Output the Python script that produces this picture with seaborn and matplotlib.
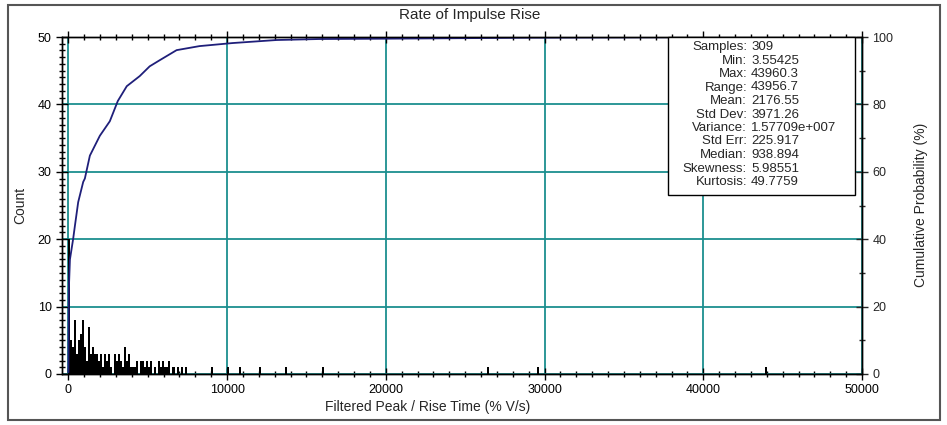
import numpy as np
import pandas as pd
import matplotlib
matplotlib.use("Agg")
import matplotlib.pyplot as plt
from matplotlib.patches import Rectangle
from matplotlib.ticker import MultipleLocator
import seaborn as sns

sns.set_style("ticks")
plt.rcParams["font.family"] = ["Liberation Sans Narrow", "Liberation Sans", "DejaVu Sans"]

# histogram counts, consecutive 125-wide bins starting at 0
BIN_WIDTH = 125
dense_counts = [20, 5, 4, 8, 3, 5, 6, 8, 4, 2, 7, 3, 4, 3, 3, 2, 3, 1, 3, 2,
                3, 1, 0, 3, 2, 3, 2, 1, 4, 2, 3, 1, 1, 1, 2, 0, 2, 2, 1, 2,
                1, 2, 0, 1, 0, 2, 1, 2, 1, 1, 2, 0, 1, 1, 0, 1, 0, 1, 0, 1]
# isolated observations further out
sparse_x = [9000, 10050, 10800, 12030, 13700, 16100, 26400, 29500, 43960]
sparse_counts = [1, 1, 1, 1, 1, 1, 1, 1, 1]

# cumulative probability curve (%)
cdf_x = [3.55, 30, 100, 300, 414, 620, 936, 1040, 1356, 1985, 2613, 3115, 3680,
         4496, 5124, 5752, 6820, 8265, 10337, 13100, 15800, 20000, 26300, 29100, 43960]
cdf_pct = [0.5, 25, 34, 40, 44, 51, 57, 58, 64.8, 70.7, 75, 81, 85.4,
           88.4, 91.3, 93.1, 96.1, 97.3, 98.2, 99.1, 99.4, 99.5, 99.7, 99.8, 100]

stat_names = ["Samples", "Min", "Max", "Range", "Mean", "Std Dev", "Variance",
              "Std Err", "Median", "Skewness", "Kurtosis"]
stat_values = ["309", "3.55425", "43960.3", "43956.7", "2176.55", "3971.26",
               "1.57709e+007", "225.917", "938.894", "5.98551", "49.7759"]

W, H = 947, 425
fig = plt.figure(figsize=(W / 100, H / 100), dpi=100)
ax = fig.add_axes([62 / W, 51 / H, 800 / W, 337 / H])

centers = [i * BIN_WIDTH + BIN_WIDTH / 2 for i in range(len(dense_counts))] + sparse_x
weights = dense_counts + sparse_counts
hist_df = pd.DataFrame({"x": centers, "w": weights})
edges = list(np.arange(0, 44000 + BIN_WIDTH, BIN_WIDTH))
sns.histplot(data=hist_df, x="x", weights="w", bins=edges, color="black", alpha=1,
             linewidth=0, ax=ax, zorder=2)

teal = "#1b8f8f"
ax.set_xlim(-400, 50000)
ax.set_ylim(0, 50)
ax.xaxis.set_major_locator(MultipleLocator(10000))
ax.xaxis.set_minor_locator(MultipleLocator(1000))
ax.yaxis.set_major_locator(MultipleLocator(10))
ax.yaxis.set_minor_locator(MultipleLocator(1))
ax.grid(True, which="major", color=teal, lw=1.3)
ax.set_axisbelow(True)
ax.tick_params(which="both", direction="inout", top=True, colors="black",
               labelsize=9, width=1)
ax.tick_params(which="major", length=8)
ax.tick_params(which="minor", length=5)
ax.set_xlabel(""); ax.set_ylabel("")
for s in ax.spines.values():
    s.set_color("black"); s.set_linewidth(1)

ax2 = ax.twinx()
sns.lineplot(x=cdf_x, y=cdf_pct, color="#1f1f7a", lw=1.3, ax=ax2)
ax2.set_ylim(0, 100)
ax2.yaxis.set_major_locator(MultipleLocator(20))
ax2.yaxis.set_minor_locator(MultipleLocator(10))
ax2.tick_params(which="both", direction="inout", labelsize=9, width=1)
ax2.tick_params(which="major", length=8)
ax2.tick_params(which="minor", length=5)
ax2.set_ylabel("")
for s in ax2.spines.values():
    s.set_color("black"); s.set_linewidth(1)

fig.text(470 / W, 1 - 15 / H, "Rate of Impulse Rise", ha="center", va="center", fontsize=11)
fig.text(428 / W, 1 - 407 / H, "Filtered Peak / Rise Time (% V/s)", ha="center", va="center", fontsize=10)
fig.text(20 / W, 1 - 205 / H, "Count", rotation=90, ha="center", va="center", fontsize=10)
fig.text(921 / W, 1 - 205 / H, "Cumulative Probability (%)", rotation=90, ha="center", va="center", fontsize=10)

# statistics box
fig.add_artist(Rectangle((668 / W, 1 - 195 / H), 187 / W, 158 / H, transform=fig.transFigure,
                         facecolor="white", edgecolor="black", lw=1, zorder=5))
for i, (n, v) in enumerate(zip(stat_names, stat_values)):
    yy = 1 - (47 + i * 13.5) / H
    fig.text(747 / W, yy, n + ":", ha="right", va="center", fontsize=9.5, zorder=6)
    fig.text(751 / W, yy, v, ha="left", va="center", fontsize=9.5, zorder=6)

# outer frame
fig.add_artist(Rectangle((8 / W, 5 / H), 932 / W, 415 / H, transform=fig.transFigure,
                         facecolor="none", edgecolor="#555555", lw=1.5, zorder=0))

fig.savefig("out.png", dpi=100)
